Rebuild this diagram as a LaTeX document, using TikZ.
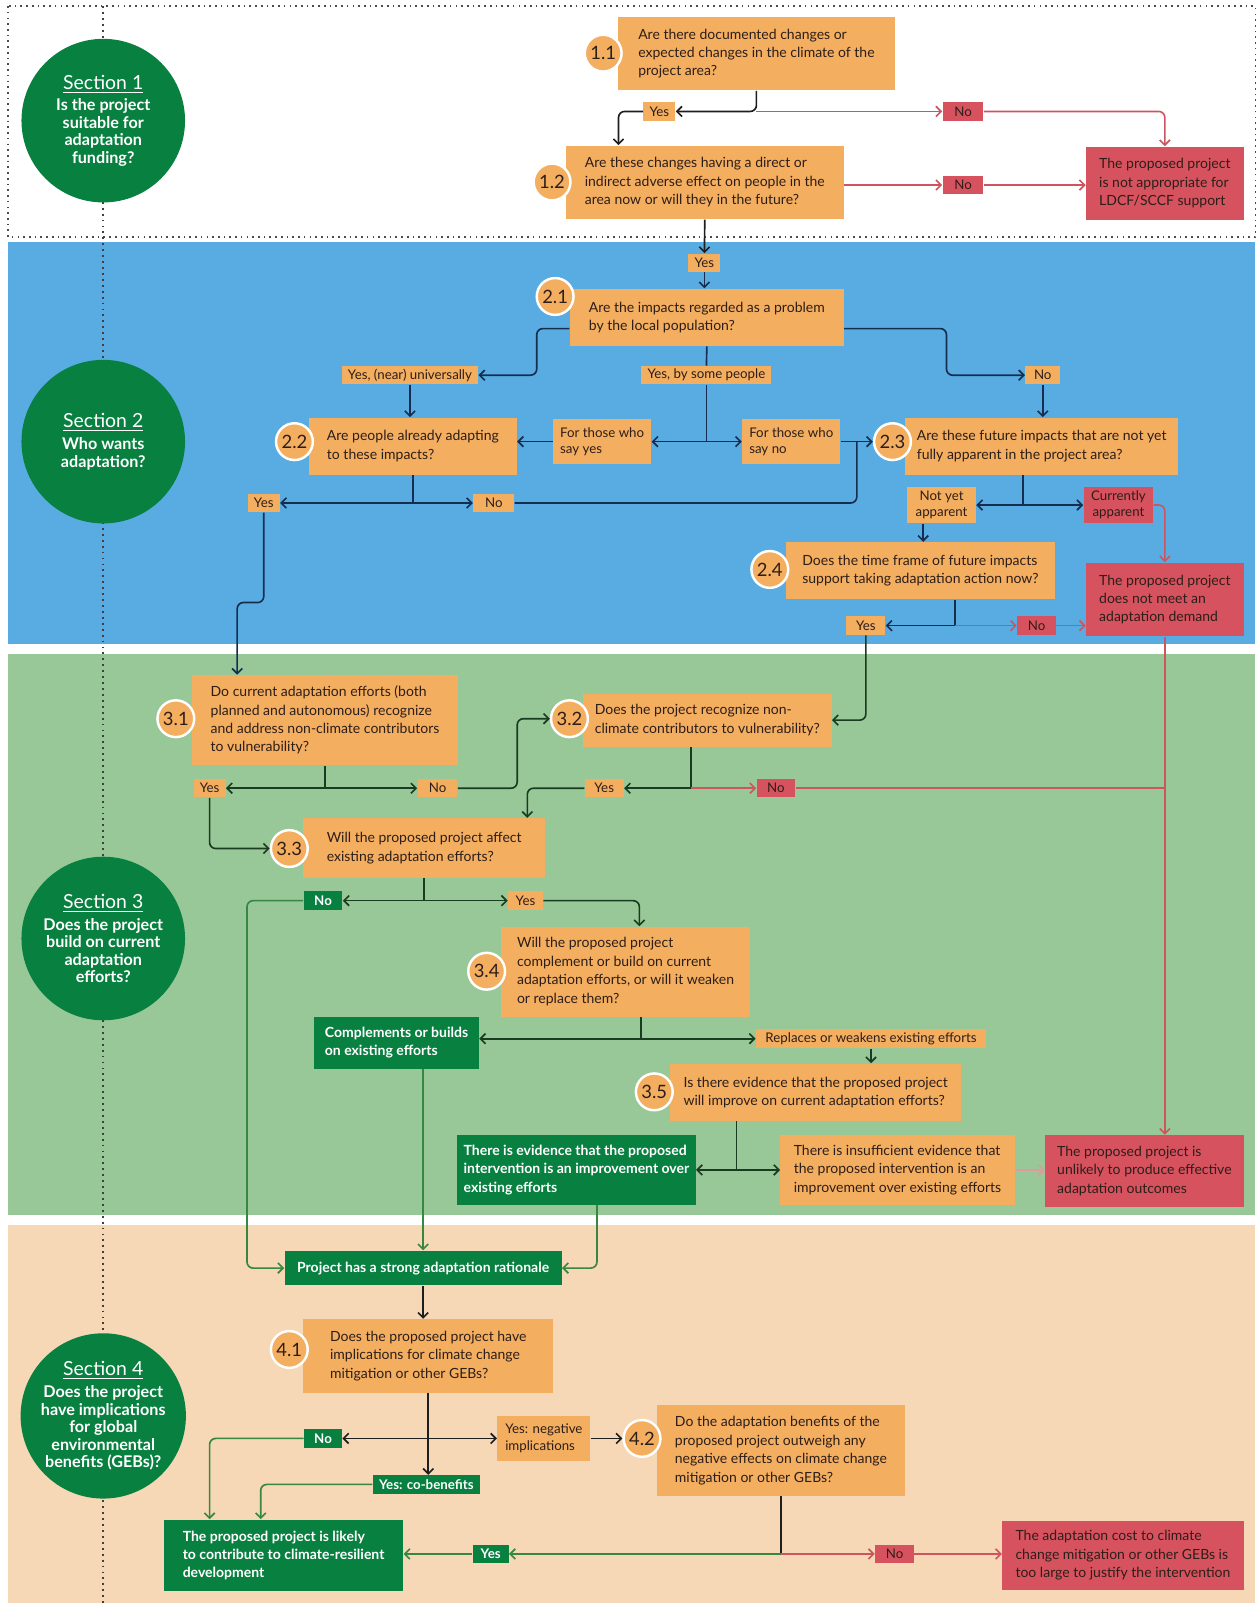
\documentclass[tikz,border=0pt]{standalone}
\usepackage{fontspec}
\setmainfont{Lato}
\usepackage{tikz}
\usetikzlibrary{arrows.meta,calc}

\definecolor{qorange}{RGB}{243,174,96}
\definecolor{qred}{RGB}{214,82,94}
\definecolor{qgreen}{RGB}{8,128,64}
\definecolor{qtext}{RGB}{45,30,25}
\definecolor{bandblue}{RGB}{88,172,226}
\definecolor{bandgreen}{RGB}{152,199,152}
\definecolor{bandbeige}{RGB}{246,215,182}
\definecolor{linkdark}{RGB}{30,30,30}
\definecolor{linknavy}{RGB}{22,45,80}
\definecolor{linkforest}{RGB}{25,60,32}
\definecolor{linkgreen}{RGB}{55,135,65}
\definecolor{linkred}{RGB}{205,85,95}

\begin{document}
\begin{tikzpicture}[x=0.5pt,y=-0.5pt,
  qbox/.style={fill=qorange, text=qtext, anchor=north west, align=left, inner sep=2pt,
    font=\fontsize{6.85}{9}\selectfont},
  rbox/.style={qbox, fill=qred},
  gbox/.style={qbox, fill=qgreen, text=white, font=\bfseries\fontsize{6.85}{9}\selectfont},
  lab/.style={fill=qorange, text=qtext, inner xsep=3pt, inner ysep=0pt, minimum height=9pt,
    font=\fontsize{6.5}{8}\selectfont},
  labr/.style={lab, fill=qred, minimum width=20pt},
  labg/.style={lab, fill=qgreen, text=white, font=\bfseries\fontsize{6.5}{8}\selectfont},
  numc/.style={circle, fill=qorange, draw=white, line width=1.2pt, minimum size=18pt,
    inner sep=0pt, text=qtext, font=\fontsize{9}{9}\selectfont},
  sect/.style={circle, fill=qgreen, text=white, minimum size=80pt, inner sep=0pt,
    align=center, font=\bfseries\fontsize{7.9}{8.6}\selectfont},
  link/.style={draw=linkdark, line width=0.8pt, rounded corners=3pt,
    -{Straight Barb[length=2.5pt,width=5pt]}},
  joint/.style={link, -},
]
\useasboundingbox (0,0) rectangle (1232,1568);

% section bands
\fill[white] (0,0) rectangle (1232,1568);
\draw[dotted, line width=0.8pt, black!70] (8,6) rectangle (1228,232);
\fill[bandblue] (8,237) rectangle (1228,630);
\fill[bandgreen] (8,640) rectangle (1228,1188);
\fill[bandbeige] (8,1198) rectangle (1228,1568);
\draw[dotted, line width=0.9pt, black!75] (101,6) -- (101,1568);

% section circles
\node[sect] (sec1) at (101,118) {{\mdseries\fontsize{9.5}{11}\selectfont\underline{Section 1}}\\[2pt]Is the project\\suitable for\\adaptation\\funding?};
\node[sect] (sec2) at (101,432) {{\mdseries\fontsize{9.5}{11}\selectfont\underline{Section 2}}\\[2pt]Who wants\\adaptation?};
\node[sect] (sec3) at (101,918) {{\mdseries\fontsize{9.5}{11}\selectfont\underline{Section 3}}\\[2pt]Does the project\\build on current\\adaptation\\efforts?};
\node[sect] (sec4) at (101,1385) {{\mdseries\fontsize{9.5}{11}\selectfont\underline{Section 4}}\\[2pt]Does the project\\have implications\\for global\\environmental\\benefits (GEBs)?};

% section 1
\node[qbox, minimum width=135.5pt, minimum height=36pt] (q11) at (604,16) {Are there documented changes or\\expected changes in the climate of the\\project area?};
\node[qbox, minimum width=136pt, minimum height=36pt] (q12) at (553,142) {Are these changes having a direct or\\indirect adverse effect on people in the\\area now or will they in the future?};
\node[rbox, minimum width=77pt, minimum height=36pt] (outa) at (1062,143) {The proposed project\\is not appropriate for\\LDCF/SCCF support};
\node[lab] (yes11) at (645,109) {Yes};
\node[labr] (no11) at (942,109) {No};
\node[labr] (no12) at (942,181) {No};

% section 2
\node[lab] (yes12) at (689,257) {Yes};
\node[qbox, minimum width=134pt, minimum height=28pt] (q21) at (557,282) {Are the impacts regarded as a problem\\by the local population?};
\node[lab] (yesuni) at (401,367) {Yes, (near) universally};
\node[lab] (yessome) at (691,367) {Yes, by some people};
\node[lab, minimum width=17pt] (no21) at (1020,367) {No};
\node[lab, align=left, minimum width=48pt, minimum height=22pt] (foryes) at (589,432) {For those who\\say yes};
\node[lab, align=left, minimum width=48pt, minimum height=22pt] (forno) at (774,432) {For those who\\say no};
\node[qbox, minimum width=101.5pt, minimum height=28pt] (q22) at (302,408) {Are people already adapting\\to these impacts?};
\node[qbox, minimum width=133.5pt, minimum height=28pt] (q23) at (885,408) {Are these future impacts that are not yet\\fully apparent in the project area?};
\node[lab] (yes22) at (258,492) {Yes};
\node[lab, minimum width=20pt] (no22) at (483,492) {No};
\node[lab, align=center, minimum width=33.5pt, minimum height=18pt] (notyet) at (921,494) {Not yet\\apparent};
\node[labr, align=center, minimum width=34pt, minimum height=18pt] (currently) at (1094,494) {Currently\\apparent};
\node[qbox, minimum width=132pt, minimum height=28pt] (q24) at (768,530) {Does the time frame of future impacts\\support taking adaptation action now?};
\node[rbox, minimum width=77pt, minimum height=36pt] (meet) at (1062,550) {The proposed project\\does not meet an\\adaptation demand};
\node[lab, minimum width=19pt] (yes24) at (847,612) {Yes};
\node[labr, minimum width=19pt] (no24) at (1014,612) {No};

% section 3
\node[qbox, minimum width=130.5pt, minimum height=44pt] (q31) at (187,660) {Do current adaptation efforts (both\\planned and autonomous) recognize\\and address non-climate contributors\\to vulnerability?};
\node[qbox, minimum width=121.5pt, minimum height=26pt] (q32) at (570,678) {Does the project recognize non-\\climate contributors to vulnerability?};
\node[lab] (yes31) at (205,771) {Yes};
\node[lab, minimum width=19.5pt] (no31) at (428,771) {No};
\node[lab, minimum width=19pt] (yes32) at (591,771) {Yes};
\node[labr, minimum width=19pt] (no32) at (759,771) {No};
\node[qbox, minimum width=118.5pt, minimum height=29pt] (q33) at (296,800) {Will the proposed project affect\\existing adaptation efforts?};
\node[labg, minimum width=19pt] (no33) at (316,881) {No};
\node[lab, minimum width=17pt] (yes33) at (514,881) {Yes};
\node[qbox, minimum width=121.5pt, minimum height=44pt] (q34) at (490,906) {Will the proposed project\\complement or build on current\\adaptation efforts, or will it weaken\\or replace them?};
\node[gbox, minimum width=80.5pt, minimum height=25.5pt] (compl) at (307,994) {Complements or builds\\on existing efforts};
\node[lab, minimum width=112.5pt, minimum height=9.5pt] (replaces) at (852,1016) {Replaces or weakens existing efforts};
\node[qbox, minimum width=142.5pt, minimum height=28pt] (q35) at (655,1040) {Is there evidence that the proposed project\\will improve on current adaptation efforts?};
\node[gbox, minimum width=116.5pt, minimum height=34pt] (evid) at (447,1110) {There is evidence that the proposed\\intervention is an improvement over\\existing efforts};
\node[qbox, minimum width=114.5pt, minimum height=34pt] (insuff) at (763,1110) {There is insufficient evidence that\\the proposed intervention is an\\improvement over existing efforts};
\node[rbox, minimum width=97pt, minimum height=35pt] (unlikely) at (1022,1110) {The proposed project is\\unlikely to produce effective\\adaptation outcomes};

% section 4
\node[gbox, minimum width=135.5pt, minimum height=17pt] (strong) at (278,1223) {Project has a strong adaptation rationale};
\node[qbox, minimum width=122.5pt, minimum height=36pt] (q41) at (296,1290) {Does the proposed project have\\implications for climate change\\mitigation or other GEBs?};
\node[labg, minimum width=18.5pt] (no41) at (316,1407) {No};
\node[lab, align=left, minimum width=45.5pt, minimum height=22pt] (yesneg) at (532,1407) {Yes: negative\\implications};
\node[labg, minimum width=50.5pt] (yesco) at (417,1452) {Yes: co-benefits};
\node[qbox, minimum width=121.5pt, minimum height=44.5pt] (q42) at (642,1374) {Do the adaptation benefits of the\\proposed project outweigh any\\negative effects on climate change\\mitigation or other GEBs?};
\node[gbox, minimum width=117pt, minimum height=35pt] (likely) at (160,1486) {The proposed project is likely\\to contribute to climate-resilient\\development};
\node[labg, minimum width=17.5pt] (yes42) at (480,1520) {Yes};
\node[labr, minimum width=19pt] (no42) at (875,1520) {No};
\node[rbox, minimum width=118pt, minimum height=34pt] (cost) at (980,1487) {The adaptation cost to climate\\change mitigation or other GEBs is\\too large to justify the intervention};

% step numbers
\node[numc] (n11) at (590,52) {1.1};
\node[numc] (n12) at (540,178) {1.2};
\node[numc] (n21) at (543,290) {2.1};
\node[numc] (n22) at (288,432) {2.2};
\node[numc] (n23) at (873,432) {2.3};
\node[numc] (n24) at (753,557) {2.4};
\node[numc] (n31) at (172,703) {3.1};
\node[numc] (n32) at (557,703) {3.2};
\node[numc] (n33) at (283,830) {3.3};
\node[numc] (n34) at (476,950) {3.4};
\node[numc] (n35) at (640,1068) {3.5};
\node[numc] (n41) at (283,1320) {4.1};
\node[numc] (n42) at (628,1407) {4.2};

% connectors, section 1
\draw[link] (q11.south) |- (yes11.east);
\draw[link, draw=linkred] (q11.south |- yes11.east) -- (no11.west);
\draw[link, draw=linkred] (no11.east) -| (outa.north);
\draw[link] (yes11.west) -| ([xshift=26pt]q12.north west);
\draw[link, draw=linkred] (q12.east |- no12.west) -- (no12.west);
\draw[link, draw=linkred] (no12.east) -- (outa.west |- no12.east);

% connectors, section 2
\draw[link] (q12.south) -- (yes12.north);
\draw[link, draw=linknavy] (yes12.south) -- (yes12.south |- q21.north);
\draw[link, draw=linknavy] ([yshift=-5.5pt]q21.west) -- ++(-32,0) |- (yesuni.east);
\draw[joint, draw=linknavy] (q21.south) -- (yessome.north);
\draw[joint, draw=linknavy] (yessome.south) -- (yessome.south |- foryes.east);
\draw[link, draw=linknavy] (yessome.south |- foryes.east) -- (foryes.east);
\draw[link, draw=linknavy] (yessome.south |- forno.west) -- (forno.west);
\draw[link, draw=linknavy] ([yshift=-5.5pt]q21.east) -- ++(100,0) |- (no21.west);
\draw[link, draw=linknavy] (no21.south) -- (no21.south |- q23.north);
\draw[link, draw=linknavy] (yesuni.south) -- (yesuni.south |- q22.north);
\draw[link, draw=linknavy] (foryes.west) -- (foryes.west -| q22.east);
\draw[link, draw=linknavy] (forno.east) -- (forno.east -| n23.west);
\draw[joint, draw=linknavy] (q22.south) -- (q22.south |- yes22.east);
\draw[link, draw=linknavy] (q22.south |- yes22.east) -- (yes22.east);
\draw[link, draw=linknavy] (q22.south |- no22.west) -- (no22.west);
\draw[joint, draw=linknavy] (no22.east) -| ($(forno.east)!.5!(n23.west)$);
\draw[joint, draw=linknavy] ([xshift=-9pt]q23.south) -- ([xshift=-9pt]q23.south |- notyet.east);
\draw[link, draw=linknavy] ([xshift=-9pt]q23.south |- notyet.east) -- (notyet.east);
\draw[link, draw=linknavy] ([xshift=-9pt]q23.south |- currently.west) -- (currently.west);
\draw[link, draw=linkred] (currently.east) -| (meet.north);
\draw[link, draw=linknavy] ([xshift=-9pt]notyet.south) -- ([xshift=-9pt]notyet.south |- q24.north);
\draw[joint, draw=linknavy] ([xshift=17pt]q24.south) -- ([xshift=17pt]q24.south |- yes24.east);
\draw[link, draw=linknavy] ([xshift=17pt]q24.south |- yes24.east) -- (yes24.east);
\draw[link, draw=linkred] ([xshift=17pt]q24.south |- no24.west) -- (no24.west);
\draw[link, draw=linkred] (no24.east) -- (no24.east -| meet.west);

% connectors, section 3
\draw[link, draw=linknavy] (yes22.south) -- ++(0,88) -| ([xshift=22.5pt]q31.north west);
\draw[link, draw=linkforest] (yes24.south) |- (q32.east);
\draw[joint, draw=linkforest] (q31.south) -- (q31.south |- yes31.east);
\draw[link, draw=linkforest] (q31.south |- yes31.east) -- (yes31.east);
\draw[link, draw=linkforest] (q31.south |- no31.west) -- (no31.west);
\draw[link, draw=linkforest] (no31.east) -- ++(58,0) |- (n32.west);
\draw[joint, draw=linkforest] ([xshift=-8pt]q32.south) -- ([xshift=-8pt]q32.south |- yes32.east);
\draw[link, draw=linkforest] ([xshift=-8pt]q32.south |- yes32.east) -- (yes32.east);
\draw[link, draw=linkred] ([xshift=-8pt]q32.south |- no32.west) -- (no32.west);
\draw[joint, draw=linkred] (no32.east) -- (no32.east -| meet.south);
\draw[link, draw=linkred] (meet.south) -- (meet.south |- unlikely.north);
\draw[link, draw=linkforest] (yes32.west) -| ([xshift=-9pt]q33.north east);
\draw[link, draw=linkforest] (yes31.south) |- (n33.west);
\draw[joint, draw=linkforest] (q33.south) -- (q33.south |- no33.east);
\draw[link, draw=linkforest] (q33.south |- no33.east) -- (no33.east);
\draw[link, draw=linkforest] (q33.south |- yes33.west) -- (yes33.west);
\draw[link, draw=linkforest] (yes33.east) -| ([xshift=6.75pt]q34.north);
\draw[link, draw=linkgreen] (no33.west) -- ++(-55,0) |- (strong.west);
\draw[joint, draw=linkforest] ([xshift=7.5pt]q34.south) -- ([xshift=7.5pt]q34.south |- replaces.west);
\draw[link, draw=linkforest] ([xshift=7.5pt]q34.south |- replaces.west) -- (replaces.west);
\draw[link, draw=linkforest] ([xshift=7.5pt]q34.south |- replaces.west) -- (compl.east |- replaces.west);
\draw[link, draw=linkforest] (replaces.south) -- (replaces.south |- q35.north);
\draw[joint, draw=linkforest] ([xshift=-38.75pt]q35.south) -- ([xshift=-38.75pt]q35.south |- insuff.west);
\draw[link, draw=linkforest] ([xshift=-38.75pt]q35.south |- insuff.west) -- (insuff.west);
\draw[link, draw=linkforest] ([xshift=-38.75pt]q35.south |- insuff.west) -- (evid.east |- insuff.west);
\draw[link, draw=linkred!60] (insuff.east) -- (insuff.east -| unlikely.west);
\draw[link, draw=linkgreen] (strong.north |- compl.south) -- (strong.north);
\draw[link, draw=linkgreen] ([xshift=10pt]evid.south) |- (strong.east);

% connectors, section 4
\draw[link] (strong.south) -- (strong.south |- q41.north);
\draw[link] (q41.south) -- (q41.south |- yesco.north);
\draw[link] (q41.south |- no41.east) -- (no41.east);
\draw[link] (q41.south |- yesneg.west) -- (yesneg.west);
\draw[link] (yesneg.east) -- (yesneg.east -| n42.west);
\draw[link, draw=linkgreen] (no41.west) -| ([xshift=22.5pt]likely.north west);
\draw[link, draw=linkgreen] (yesco.west) -| ([xshift=47.5pt]likely.north west);
\draw[joint] (q42.south) -- (q42.south |- yes42.east);
\draw[link, draw=linkgreen] (q42.south |- yes42.east) -- (yes42.east);
\draw[link, draw=linkred] (q42.south |- no42.west) -- (no42.west);
\draw[link, draw=linkgreen] (yes42.west) -- (yes42.west -| likely.east);
\draw[link, draw=linkred] (no42.east) -- (no42.east -| cost.west);
\end{tikzpicture}
\end{document}
